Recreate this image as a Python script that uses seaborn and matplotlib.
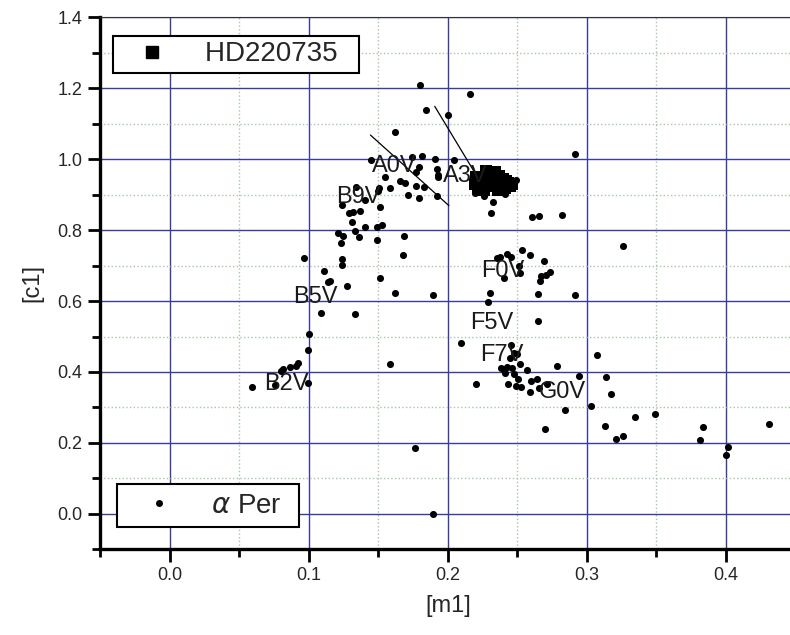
import matplotlib
matplotlib.use('Agg')
import matplotlib.pyplot as plt
import seaborn as sns
import pandas as pd
from matplotlib.lines import Line2D
from matplotlib.ticker import MultipleLocator

# alpha Per cluster members
m1_per = [0.0593, 0.0760, 0.0800, 0.0818, 0.0868, 0.0912, 0.0926, 0.0994, 0.0994, 0.1000,
          0.0969, 0.1088, 0.1108, 0.1137, 0.1156, 0.1276, 0.1336, 0.1582, 0.1511, 0.1239,
          0.1239, 0.1209, 0.1245, 0.1232, 0.1336, 0.1361, 0.1408, 0.1312, 0.1288, 0.1318,
          0.1368, 0.1492, 0.1528, 0.1494, 0.1516, 0.1402, 0.1242, 0.1340, 0.1620, 0.1895,
          0.2094, 0.2206, 0.1678, 0.1688, 0.1799, 0.2156, 0.1842, 0.2005, 0.1620, 0.1451,
          0.1545, 0.1742, 0.1814, 0.1906, 0.2046, 0.1795, 0.1768, 0.1924, 0.1933, 0.1926,
          0.1654, 0.1692, 0.1773, 0.1832, 0.1581, 0.1509, 0.1496, 0.1712, 0.1796, 0.1922,
          0.2199, 0.2259, 0.2325, 0.2408, 0.2491, 0.2307, 0.2602, 0.2655, 0.2823, 0.2917,
          0.3259, 0.2355, 0.2374, 0.2424, 0.2451, 0.2530, 0.2591, 0.2688, 0.2511, 0.2516,
          0.2406, 0.2667, 0.2703, 0.2735, 0.2660, 0.2647, 0.2917, 0.2302, 0.2288, 0.2647,
          0.2453, 0.2475, 0.2501, 0.2446, 0.2379, 0.2403, 0.2422, 0.2463, 0.2516, 0.2571,
          0.2412, 0.2476, 0.2504, 0.2433, 0.2487, 0.2525, 0.2595, 0.2638, 0.2590, 0.2655,
          0.2715, 0.2787, 0.2944, 0.3075, 0.3136, 0.3171, 0.2845, 0.3027, 0.2697, 0.3127,
          0.3212, 0.3259, 0.3345, 0.3488, 0.3831, 0.3813, 0.4017, 0.4001, 0.4309, 0.1762,
          0.1894]
c1_per = [0.3573, 0.3629, 0.4025, 0.4082, 0.4147, 0.4181, 0.4252, 0.3686, 0.4628, 0.5064,
          0.7222, 0.5666, 0.6834, 0.6543, 0.6571, 0.6421, 0.5624, 0.4223, 0.6637, 0.7185,
          0.7024, 0.7915, 0.7825, 0.7632, 0.7986, 0.7816, 0.8099, 0.8240, 0.8495, 0.8523,
          0.8532, 0.8079, 0.8150, 0.7723, 0.8651, 0.8835, 0.8721, 0.9211, 0.6223, 0.6167,
          0.4818, 0.3652, 0.7301, 0.7825, 1.2079, 1.1842, 1.1389, 1.1239, 1.0764, 0.9966,
          0.9485, 1.0051, 1.0088, 1.0008, 0.9977, 0.9768, 0.9635, 0.9711, 0.9556, 0.9485,
          0.9372, 0.9315, 0.9253, 0.9211, 0.9188, 0.9194, 0.9098, 0.8996, 0.8911, 0.8956,
          0.9041, 0.8962, 0.8786, 0.9004, 0.9400, 0.8481, 0.8373, 0.8387, 0.8430, 1.0156,
          0.7542, 0.7222, 0.7250, 0.7315, 0.7236, 0.7448, 0.7293, 0.7117, 0.6996, 0.6792,
          0.6656, 0.6693, 0.6741, 0.6818, 0.6552, 0.6212, 0.6184, 0.6226, 0.5986, 0.5448,
          0.4747, 0.4543, 0.4498, 0.4393, 0.4110, 0.4054, 0.4153, 0.4102, 0.4215, 0.4068,
          0.3977, 0.3941, 0.3805, 0.3658, 0.3601, 0.3573, 0.3757, 0.3799, 0.3440, 0.3553,
          0.3666, 0.4158, 0.3884, 0.4472, 0.3856, 0.3383, 0.2922, 0.3030, 0.2405, 0.2470,
          0.2122, 0.2207, 0.2724, 0.2801, 0.2441, 0.2093, 0.1890, 0.1669, 0.2535, 0.1867,
          0.0000]

# HD220735 measurements (the black squares)
m1_hd = [0.2206, 0.2235, 0.2271, 0.2300, 0.2329, 0.2220, 0.2263, 0.2307, 0.2351, 0.2379,
         0.2408, 0.2430, 0.2365, 0.2278, 0.2336, 0.2394, 0.2444, 0.2243, 0.2293, 0.2358,
         0.2415, 0.2199, 0.2322, 0.2379, 0.2458]
c1_hd = [0.9485, 0.9315, 0.9539, 0.9372, 0.9231, 0.9174, 0.9117, 0.9457, 0.9400, 0.9287,
         0.9174, 0.9315, 0.9513, 0.9655, 0.9627, 0.9429, 0.9231, 0.9429, 0.9231, 0.9117,
         0.9372, 0.9287, 0.9315, 0.9174, 0.9287]

# spectral type labels
sp_types = ['B2V', 'B5V', 'B9V', 'A0V', 'A3V', 'F0V', 'F5V', 'F7V', 'G0V']
sp_m1 = [0.0840, 0.1045, 0.1354, 0.1613, 0.2127, 0.2397, 0.2314, 0.2390, 0.2825]
sp_c1 = [0.3663, 0.6105, 0.8928, 0.9796, 0.9519, 0.6854, 0.5369, 0.4478, 0.3431]

# the two straight lines near A0V / A3V
line1_m1 = [0.1444, 0.2008]
line1_c1 = [1.068, 0.869]
line2_m1 = [0.1906, 0.2220]
line2_c1 = [1.149, 0.945]

per = pd.DataFrame({'m1': m1_per, 'c1': c1_per})
hd = pd.DataFrame({'m1': m1_hd, 'c1': c1_hd})

sns.set_style('white')
plt.rcParams['font.family'] = ['Liberation Sans', 'DejaVu Sans']

fig = plt.figure(figsize=(7.9, 6.35), dpi=100)
ax = fig.add_axes([100 / 790, 85.7 / 635, 695.6 / 790, 532 / 635])

ax.set_xlim(-0.05, 0.45)
ax.set_ylim(-0.1, 1.4)
ax.xaxis.set_major_locator(MultipleLocator(0.1))
ax.xaxis.set_minor_locator(MultipleLocator(0.05))
ax.yaxis.set_major_locator(MultipleLocator(0.2))
ax.yaxis.set_minor_locator(MultipleLocator(0.1))
ax.xaxis.set_major_formatter(lambda v, p: f'{v:.1f}')
ax.yaxis.set_major_formatter(lambda v, p: f'{v:.1f}')

ax.grid(which='major', color='#3b3b9c', lw=1.0, ls='-')
ax.grid(which='minor', color='#a9c4a9', lw=1.0, ls=':')
ax.set_axisbelow(True)

sns.scatterplot(data=per, x='m1', y='c1', color='black', s=26, linewidth=0, ax=ax, zorder=3)
sns.scatterplot(data=hd, x='m1', y='c1', color='black', marker='s', s=70, linewidth=0,
                ax=ax, zorder=4)
ax.plot(line1_m1, line1_c1, color='black', lw=0.9, zorder=3)
ax.plot(line2_m1, line2_c1, color='black', lw=0.9, zorder=3)

for s, x, y in zip(sp_types, sp_m1, sp_c1):
    ax.text(x, y, s, ha='center', va='center', fontsize=17, color='#1a1a1a', zorder=5)

ax.set_xlabel('[m1]', fontsize=17, labelpad=8)
ax.set_ylabel('[c1]', fontsize=17, labelpad=10)

for side in ['left', 'bottom']:
    ax.spines[side].set_linewidth(2.4)
    ax.spines[side].set_color('black')
ax.spines['top'].set_linewidth(0.8)
ax.spines['top'].set_color('#333333')
ax.spines['right'].set_visible(False)

ax.tick_params(which='major', direction='out', length=9, width=2, labelsize=13,
               bottom=True, left=True, top=False, right=False, color='black')
ax.tick_params(which='minor', direction='out', length=6, width=2,
               bottom=True, left=True, top=False, right=False, color='black')

h_hd = Line2D([], [], ls='none', marker='s', color='black', markersize=8.5)
leg1 = ax.legend([h_hd], ['HD220735  '], loc='upper left', bbox_to_anchor=(0.019, 0.9654),
                 borderaxespad=0, fontsize=20, fancybox=False, framealpha=1,
                 edgecolor='black', borderpad=0.2, handlelength=2.4, handletextpad=0.7)
leg1.get_frame().set_linewidth(1.5)
leg1.set_zorder(10)
ax.add_artist(leg1)

h_per = Line2D([], [], ls='none', marker='o', color='black', markersize=4)
leg2 = ax.legend([h_per], [r'$\alpha$ Per  '], loc='lower left', bbox_to_anchor=(0.0244, 0.042),
                 borderaxespad=0, fontsize=20, fancybox=False, framealpha=1,
                 edgecolor='black', borderpad=0.3, handlelength=2.4, handletextpad=0.7)
leg2.get_frame().set_linewidth(1.5)
leg2.set_zorder(10)

fig.savefig('out.png', dpi=100)
